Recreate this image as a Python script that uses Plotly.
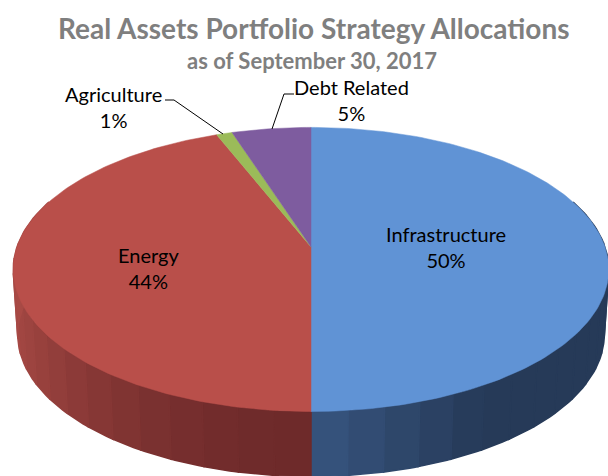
import math
import plotly.graph_objects as go

categories = ["Infrastructure", "Energy", "Agriculture", "Debt Related"]
values = [50, 44, 1, 5]
top_colors = ["#6093D5", "#B94F4A", "#9BBB59", "#7E5C9F"]
wall_dark = ["#263A58", "#6E2A2A", "#5E7236", "#4A3660"]
wall_light = ["#37557F", "#A84A45", "#7C9647", "#644A80"]
label_x = [446, 148, 113, 351]
label_y = [247, 268, 107, 100]
title = "Real Assets Portfolio Strategy Allocations"
subtitle = "as of September 30, 2017"

A, B, K, CX, CY = 294, 138.5, 0.158, 311, 247
DEPTH, WALL_SCALE = 65, 0.985


def project(theta):
    X, Y = math.sin(theta), math.cos(theta)
    d = 1 + K * Y
    return CX + A * X / d, CY - B * Y / d


def wall_bottom(theta):
    x, y = project(theta)
    return CX + (x - CX) * WALL_SCALE, y + DEPTH


def mix(c1, c2, t):
    a = [int(c1[i:i + 2], 16) for i in (1, 3, 5)]
    b = [int(c2[i:i + 2], 16) for i in (1, 3, 5)]
    return "rgb(%d,%d,%d)" % tuple(round(p + (q - p) * t) for p, q in zip(a, b))


total = sum(values)
bounds = [0]
for v in values:
    bounds.append(bounds[-1] + v / total * 2 * math.pi)

fig = go.Figure()


def poly(xs, ys, color, lw=0.8):
    fig.add_trace(go.Scatter(x=xs, y=ys, mode="lines", fill="toself", fillcolor=color,
                             line=dict(color=color, width=lw), hoverinfo="skip", showlegend=False))


# side wall, one strip per small arc of every slice
WALL_FROM, WALL_TO = math.radians(70), math.radians(290)
for i in range(len(values)):
    lo, hi = max(bounds[i], WALL_FROM), min(bounds[i + 1], WALL_TO)
    if hi <= lo:
        continue
    n = max(2, int((hi - lo) / math.radians(6)))
    for s in range(n):
        a, b = lo + (hi - lo) * s / n, lo + (hi - lo) * (s + 1) / n
        m = (a + b) / 2
        t = abs(math.sin(m))  # 0 at the front centre, 1 at the side
        if i == 0:
            c = mix(wall_light[i], wall_dark[i], min(1, t * 2))
        else:
            c = mix(wall_dark[i], wall_light[i], t * t)
        p = [project(a + (b - a) * j / 8) for j in range(9)]
        q = [wall_bottom(b - (b - a) * j / 8) for j in range(9)]
        poly([u[0] for u in p + q] + [p[0][0]], [u[1] for u in p + q] + [p[0][1]], c, 1.5)

# top face
for i in range(len(values)):
    lo, hi = bounds[i], bounds[i + 1]
    n = max(3, int((hi - lo) / math.radians(1)))
    pts = [project(lo + (hi - lo) * j / n) for j in range(n + 1)]
    poly([CX] + [u[0] for u in pts] + [CX], [CY] + [u[1] for u in pts] + [CY], top_colors[i], 0.5)

# leader lines
fig.add_trace(go.Scatter(x=[165, 174, 223], y=[100, 100, 134], mode="lines",
                         line=dict(color="black", width=1), hoverinfo="skip", showlegend=False))
fig.add_trace(go.Scatter(x=[294, 284, 272], y=[94, 94, 129], mode="lines",
                         line=dict(color="black", width=1), hoverinfo="skip", showlegend=False))

# data labels
for name, v, x, y in zip(categories, values, label_x, label_y):
    fig.add_annotation(x=x, y=y, text=f"{name}<br>{v}%", showarrow=False,
                       font=dict(family="Lato", size=20, color="black"), xanchor="center", yanchor="middle")

fig.add_annotation(x=314, y=28, text=f"<b>{title}</b>", showarrow=False,
                   font=dict(family="Lato", size=28, color="#7F7F7F"))
fig.add_annotation(x=312, y=60, text=f"<b>{subtitle}</b>", showarrow=False,
                   font=dict(family="Lato", size=22, color="#7F7F7F"))

fig.update_layout(width=608, height=476, margin=dict(l=0, r=0, t=0, b=0), autosize=False,
                  paper_bgcolor="white", plot_bgcolor="white", showlegend=False,
                  xaxis=dict(range=[0, 608], visible=False, fixedrange=True),
                  yaxis=dict(range=[476, 0], visible=False, fixedrange=True))
fig.write_html("out.html", config=dict(displayModeBar=False),
               post_script="document.body.style.margin='0';document.body.style.overflow='hidden';")
